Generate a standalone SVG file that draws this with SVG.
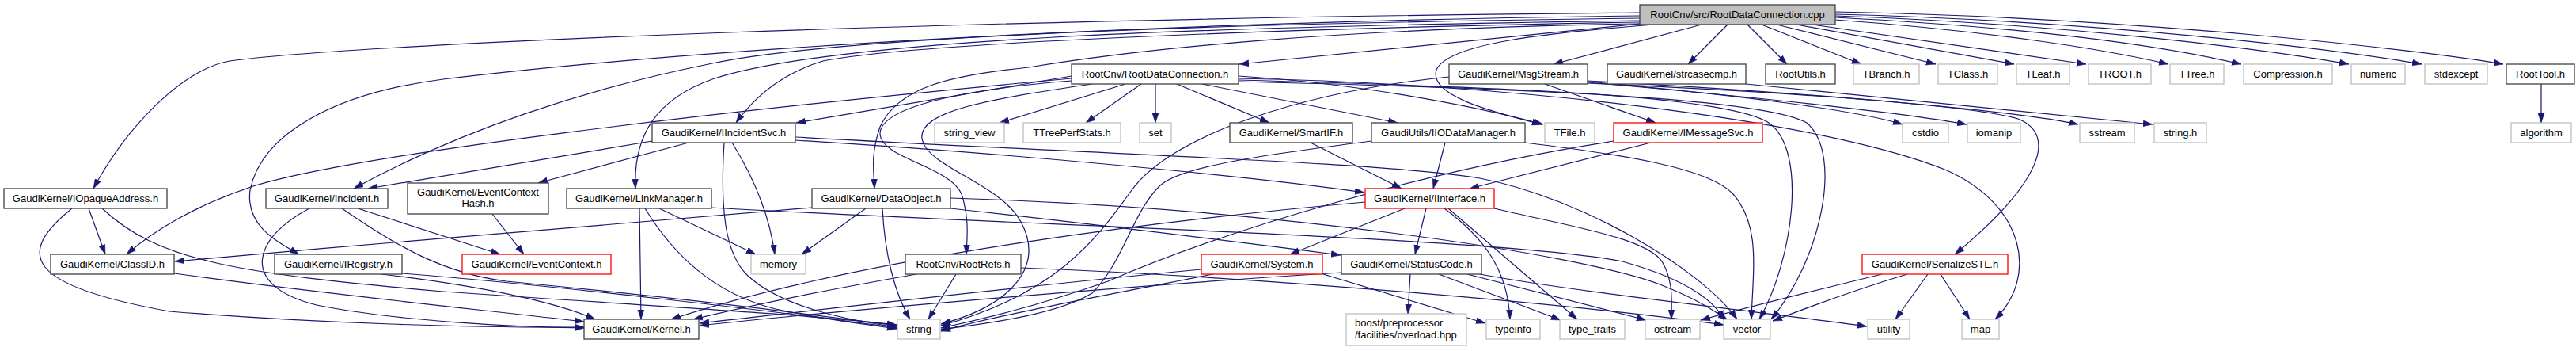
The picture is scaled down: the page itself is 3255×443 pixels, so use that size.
<svg xmlns="http://www.w3.org/2000/svg" width="3255" height="443" viewBox="0 0 3255 443">
<style>
.n rect{fill:#fff;stroke:#404040;stroke-width:1.3}
.g rect{fill:#fff;stroke:#bfbfbf;stroke-width:1.3}
.r rect{fill:#fff;stroke:#ff0000;stroke-width:1.3}
.root rect{fill:#bfbfbf;stroke:#404040;stroke-width:1.3}
text{font-family:"Liberation Sans",Arial,Helvetica,sans-serif;font-size:13px;text-anchor:middle;fill:#000}
#edges path{fill:none;stroke:#191970;stroke-width:1.2;marker-end:url(#a)}
</style>
<defs>
<marker id="a" markerUnits="userSpaceOnUse" markerWidth="12" markerHeight="9" refX="12" refY="4.5" orient="auto" viewBox="0 0 12 9"><path d="M0,0.5 L12,4.5 L0,8.5 z" fill="#191970" stroke="#191970" stroke-width="0.5"/></marker>
</defs>
<rect width="3255" height="443" fill="#fff"/>
<g id="edges">
<path d="M2072,16 C1200,24 450,55 290,77 C230,88 160,160 118,238"/>
<path d="M2072,20 C1400,28 850,65 560,100 C420,118 330,170 316,240 C310,285 350,305 378,321"/>
<path d="M2072,23 C1500,30 1050,48 900,80 C740,112 580,165 447,238"/>
<path d="M2072,26 C1500,34 1050,50 900,100 C830,125 800,170 803,238"/>
<path d="M2072,28 C1600,36 1150,55 1040,77 C990,92 955,120 930,155"/>
<path d="M2072,30 C1700,36 1450,60 1300,85 C1200,95 1135,110 1112,160 C1100,195 1104,215 1105,238"/>
<path d="M2072,30 C1850,52 1700,68 1566,81"/>
<path d="M2090,31 C1950,42 1830,55 1815,88 C1805,120 1880,140 1948,157"/>
<path d="M2150,31 L1963,81"/>
<path d="M2183,31 L2133,81"/>
<path d="M2208,31 L2258,81"/>
<path d="M2226,31 L2352,81"/>
<path d="M2245,31 L2446,81"/>
<path d="M2270,31 L2545,81"/>
<path d="M2290,31 L2636,81"/>
<path d="M2319,25 C2500,38 2650,60 2740,81"/>
<path d="M2319,22 C2550,34 2720,55 2832,81"/>
<path d="M2319,20 C2600,30 2850,60 2968,81"/>
<path d="M2319,18 C2650,26 2950,62 3060,81"/>
<path d="M2319,15 C2700,22 3050,62 3163,81"/>
<path d="M3211,106 L3211,155"/>
<path d="M1354,96 L1006,155"/>
<path d="M1354,99 C900,140 450,195 320,235 C250,258 195,290 160,321"/>
<path d="M1354,102 C1250,110 1110,130 1112,170 C1115,200 1200,210 1215,245 C1225,275 1222,300 1221,321"/>
<path d="M1380,106 C1250,125 1160,140 1165,175 C1170,210 1265,232 1290,280 C1320,335 1280,385 1189,409"/>
<path d="M1422,106 L1263,155"/>
<path d="M1442,106 L1372,155"/>
<path d="M1460,106 L1460,155"/>
<path d="M1487,106 L1604,155"/>
<path d="M1519,106 L1766,155"/>
<path d="M1565,96 C1700,104 1850,130 1950,157"/>
<path d="M1565,99 C1900,105 2300,150 2460,215 C2560,260 2575,350 2521,403"/>
<path d="M1565,101 C1900,110 2180,120 2235,155 C2285,190 2265,330 2223,403"/>
<path d="M1565,103 C1950,112 2230,125 2283,155 C2330,195 2300,330 2238,403"/>
<path d="M1952,106 L2092,155"/>
<path d="M1831,97 C1650,115 1480,170 1430,240 C1390,295 1340,370 1189,411"/>
<path d="M2006,103 C2200,120 2350,140 2404,157"/>
<path d="M2006,104 C2250,125 2420,145 2485,157"/>
<path d="M2006,102 C2300,118 2550,140 2626,157"/>
<path d="M2006,105 C2300,118 2500,135 2550,150 C2600,170 2580,230 2470,321"/>
<path d="M2206,106 C2400,125 2600,145 2720,157"/>
<path d="M2086,180 L1857,238"/>
<path d="M2039,178 C1800,215 1550,290 1400,355 C1300,390 1230,405 1189,414"/>
<path d="M1826,180 L1811,238"/>
<path d="M1733,178 C1600,195 1490,210 1465,235 C1430,270 1420,330 1380,370 C1330,400 1230,410 1189,416"/>
<path d="M1927,180 C2050,195 2160,212 2190,245 C2225,285 2215,340 2213,403"/>
<path d="M1656,180 L1771,238"/>
<path d="M824,178 L465,238"/>
<path d="M870,180 L680,231"/>
<path d="M925,180 C950,220 972,270 979,321"/>
<path d="M915,180 C910,260 915,320 945,348 C990,390 1080,405 1133,413"/>
<path d="M1005,173 C1400,195 1750,205 1870,225 C2000,250 2150,340 2195,403"/>
<path d="M1005,177 C1300,195 1600,225 1724,243"/>
<path d="M391,263 C320,300 300,360 400,385 C500,405 650,413 738,414"/>
<path d="M432,263 C500,310 560,345 640,355 C900,380 1050,400 1133,411"/>
<path d="M452,263 L632,321"/>
<path d="M622,270 L662,321"/>
<path d="M112,263 L133,321"/>
<path d="M91,263 C20,320 30,360 214,393 C400,408 600,414 738,413"/>
<path d="M129,263 C200,330 300,345 560,368 C800,385 1000,395 1133,410"/>
<path d="M220,345 C400,370 600,390 738,406"/>
<path d="M482,346 C600,360 700,380 752,403"/>
<path d="M508,345 C700,360 1000,395 1133,414"/>
<path d="M808,263 L810,403"/>
<path d="M833,263 L955,321"/>
<path d="M815,263 C850,320 900,370 980,390 C1050,405 1100,410 1133,415"/>
<path d="M899,262 C1300,285 1900,300 2050,330 C2140,355 2170,385 2178,404"/>
<path d="M1026,262 C800,280 500,305 221,330"/>
<path d="M1094,263 L1013,321"/>
<path d="M1115,263 C1118,320 1130,370 1150,403"/>
<path d="M1201,263 C1400,285 1600,310 1694,322"/>
<path d="M1201,250 C1600,262 2000,320 2100,360 C2150,380 2170,395 2183,404"/>
<path d="M1158,346 C1050,365 950,385 876,403"/>
<path d="M1208,346 L1173,403"/>
<path d="M1290,338 C1600,350 2000,385 2178,410"/>
<path d="M1725,255 C1500,275 1100,320 848,403"/>
<path d="M1775,263 L1630,321"/>
<path d="M1802,263 L1788,321"/>
<path d="M1825,263 C1875,300 1905,340 1908,403"/>
<path d="M1830,263 L1993,403"/>
<path d="M1888,263 C1980,285 2080,300 2100,330 C2115,355 2112,380 2112,403"/>
<path d="M1518,340 C1300,360 1000,395 884,408"/>
<path d="M1533,346 C1400,372 1250,400 1189,418"/>
<path d="M1672,346 L1877,408"/>
<path d="M1695,344 C1400,362 1000,398 884,411"/>
<path d="M1782,346 L1779,396"/>
<path d="M1818,346 L1972,404"/>
<path d="M1854,346 L2080,404"/>
<path d="M1870,346 C2000,370 2200,390 2359,412"/>
<path d="M2378,346 C2300,365 2200,390 2149,404"/>
<path d="M2410,346 C2330,370 2280,390 2240,405"/>
<path d="M2436,346 L2395,403"/>
<path d="M2452,346 L2489,403"/>
</g>
<g id="n_root" class="root"><rect x="2072" y="6" width="247" height="25"/><text x="2195.5" y="23">RootCnv/src/RootDataConnection.cpp</text></g>
<g id="n_rdc" class="n"><rect x="1354" y="81" width="211" height="25"/><text x="1459.5" y="98">RootCnv/RootDataConnection.h</text></g>
<g id="n_msgstream" class="n"><rect x="1831" y="81" width="175" height="25"/><text x="1918.5" y="98">GaudiKernel/MsgStream.h</text></g>
<g id="n_strcasecmp" class="n"><rect x="2031" y="81" width="175" height="25"/><text x="2118.5" y="98">GaudiKernel/strcasecmp.h</text></g>
<g id="n_rootutils" class="n"><rect x="2231" y="81" width="88" height="25"/><text x="2275" y="98">RootUtils.h</text></g>
<g id="n_tbranch" class="g"><rect x="2342" y="81" width="83" height="25"/><text x="2383.5" y="98">TBranch.h</text></g>
<g id="n_tclass" class="g"><rect x="2449" y="81" width="75" height="25"/><text x="2486.5" y="98">TClass.h</text></g>
<g id="n_tleaf" class="g"><rect x="2548" y="81" width="67" height="25"/><text x="2581.5" y="98">TLeaf.h</text></g>
<g id="n_troot" class="g"><rect x="2639" y="81" width="79" height="25"/><text x="2678.5" y="98">TROOT.h</text></g>
<g id="n_ttree" class="g"><rect x="2742" y="81" width="68" height="25"/><text x="2776" y="98">TTree.h</text></g>
<g id="n_compression" class="g"><rect x="2835" y="81" width="112" height="25"/><text x="2891" y="98">Compression.h</text></g>
<g id="n_numeric" class="g"><rect x="2971" y="81" width="68" height="25"/><text x="3005" y="98">numeric</text></g>
<g id="n_stdexcept" class="g"><rect x="3064" y="81" width="79" height="25"/><text x="3103.5" y="98">stdexcept</text></g>
<g id="n_roottool" class="n"><rect x="3167" y="81" width="86" height="25"/><text x="3210" y="98">RootTool.h</text></g>
<g id="n_iincidentsvc" class="n"><rect x="824" y="155" width="181" height="25"/><text x="914.5" y="172">GaudiKernel/IIncidentSvc.h</text></g>
<g id="n_string_view" class="g"><rect x="1181" y="155" width="88" height="25"/><text x="1225" y="172">string_view</text></g>
<g id="n_ttreeperfstats" class="g"><rect x="1293" y="155" width="123" height="25"/><text x="1354.5" y="172">TTreePerfStats.h</text></g>
<g id="n_set" class="g"><rect x="1440" y="155" width="40" height="25"/><text x="1460" y="172">set</text></g>
<g id="n_smartif" class="n"><rect x="1554" y="155" width="155" height="25"/><text x="1631.5" y="172">GaudiKernel/SmartIF.h</text></g>
<g id="n_iiodatamanager" class="n"><rect x="1733" y="155" width="194" height="25"/><text x="1830" y="172">GaudiUtils/IIODataManager.h</text></g>
<g id="n_tfile" class="g"><rect x="1952" y="155" width="63" height="25"/><text x="1983.5" y="172">TFile.h</text></g>
<g id="n_imessagesvc" class="r"><rect x="2039" y="155" width="188" height="25"/><text x="2133" y="172">GaudiKernel/IMessageSvc.h</text></g>
<g id="n_cstdio" class="g"><rect x="2404" y="155" width="58" height="25"/><text x="2433" y="172">cstdio</text></g>
<g id="n_iomanip" class="g"><rect x="2486" y="155" width="67" height="25"/><text x="2519.5" y="172">iomanip</text></g>
<g id="n_sstream" class="g"><rect x="2628" y="155" width="69" height="25"/><text x="2662.5" y="172">sstream</text></g>
<g id="n_string_h" class="g"><rect x="2722" y="155" width="66" height="25"/><text x="2755" y="172">string.h</text></g>
<g id="n_algorithm" class="g"><rect x="3173" y="155" width="76" height="25"/><text x="3211" y="172">algorithm</text></g>
<g id="n_iopaqueaddress" class="n"><rect x="5" y="238" width="206" height="25"/><text x="108" y="255">GaudiKernel/IOpaqueAddress.h</text></g>
<g id="n_incident" class="n"><rect x="336" y="238" width="154" height="25"/><text x="413" y="255">GaudiKernel/Incident.h</text></g>
<g id="n_eventcontexthash" class="n"><rect x="515" y="231" width="178" height="39"/><text x="604" y="247">GaudiKernel/EventContext</text><text x="604" y="261">Hash.h</text></g>
<g id="n_linkmanager" class="n"><rect x="716" y="238" width="183" height="25"/><text x="807.5" y="255">GaudiKernel/LinkManager.h</text></g>
<g id="n_dataobject" class="n"><rect x="1026" y="238" width="175" height="25"/><text x="1113.5" y="255">GaudiKernel/DataObject.h</text></g>
<g id="n_iinterface" class="r"><rect x="1725" y="238" width="163" height="25"/><text x="1806.5" y="255">GaudiKernel/IInterface.h</text></g>
<g id="n_classid" class="n"><rect x="64" y="321" width="156" height="25"/><text x="142" y="338">GaudiKernel/ClassID.h</text></g>
<g id="n_iregistry" class="n"><rect x="347" y="321" width="161" height="25"/><text x="427.5" y="338">GaudiKernel/IRegistry.h</text></g>
<g id="n_eventcontext" class="r"><rect x="584" y="321" width="188" height="25"/><text x="678" y="338">GaudiKernel/EventContext.h</text></g>
<g id="n_memory" class="g"><rect x="949" y="321" width="69" height="25"/><text x="983.5" y="338">memory</text></g>
<g id="n_rootrefs" class="n"><rect x="1144" y="321" width="146" height="25"/><text x="1217" y="338">RootCnv/RootRefs.h</text></g>
<g id="n_system" class="r"><rect x="1518" y="321" width="153" height="25"/><text x="1594.5" y="338">GaudiKernel/System.h</text></g>
<g id="n_statuscode" class="n"><rect x="1695" y="321" width="177" height="25"/><text x="1783.5" y="338">GaudiKernel/StatusCode.h</text></g>
<g id="n_serializestl" class="r"><rect x="2353" y="321" width="184" height="25"/><text x="2445" y="338">GaudiKernel/SerializeSTL.h</text></g>
<g id="n_kernel" class="n"><rect x="738" y="403" width="145" height="25"/><text x="810.5" y="420">GaudiKernel/Kernel.h</text></g>
<g id="n_string" class="g"><rect x="1134" y="403" width="54" height="25"/><text x="1161" y="420">string</text></g>
<g id="n_boost" class="g"><rect x="1701" y="396" width="152" height="40"/><text x="1712" y="412" style="text-anchor:start">boost/preprocessor</text><text x="1712" y="427" style="text-anchor:start">/facilities/overload.hpp</text></g>
<g id="n_typeinfo" class="g"><rect x="1878" y="403" width="68" height="25"/><text x="1912" y="420">typeinfo</text></g>
<g id="n_type_traits" class="g"><rect x="1971" y="403" width="82" height="25"/><text x="2012" y="420">type_traits</text></g>
<g id="n_ostream" class="g"><rect x="2079" y="403" width="69" height="25"/><text x="2113.5" y="420">ostream</text></g>
<g id="n_vector" class="g"><rect x="2178" y="403" width="59" height="25"/><text x="2207.5" y="420">vector</text></g>
<g id="n_utility" class="g"><rect x="2360" y="403" width="53" height="25"/><text x="2386.5" y="420">utility</text></g>
<g id="n_map" class="g"><rect x="2479" y="403" width="47" height="25"/><text x="2502.5" y="420">map</text></g>
</svg>
